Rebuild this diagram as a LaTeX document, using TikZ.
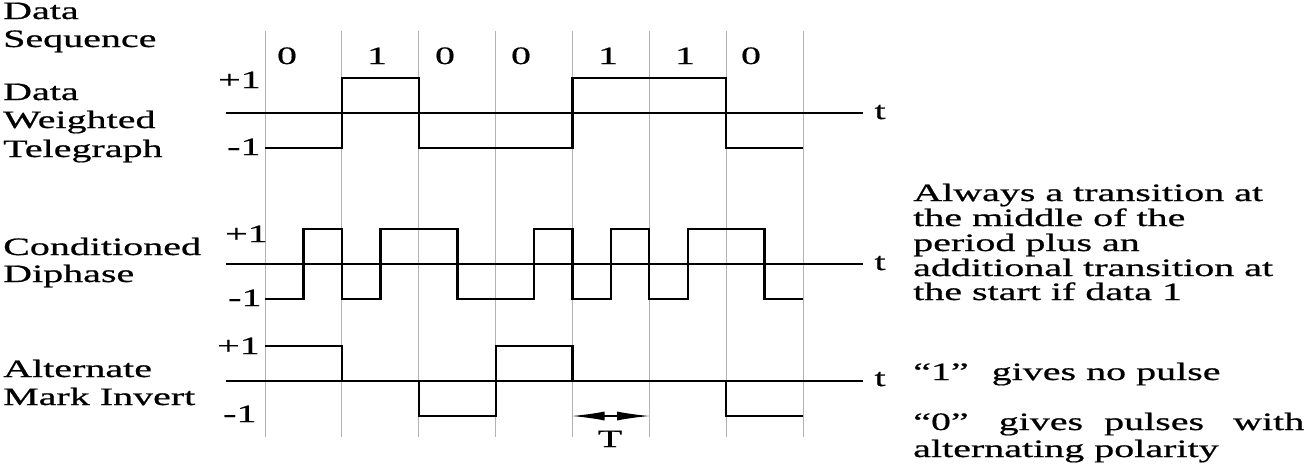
\documentclass[tikz,border=0pt]{standalone}
\usepackage{fontspec}
\setmainfont{Liberation Serif}[FakeStretch=1.6,FakeBold=0.7]
\usetikzlibrary{arrows.meta}
\begin{document}
\begin{tikzpicture}[x=1pt,y=-1pt,
  txt/.style={font=\fontsize{25}{27}\selectfont, inner sep=0pt, anchor=base west},
  ctxt/.style={font=\fontsize{25}{27}\selectfont, inner sep=0pt, anchor=base},
  gridline/.style={draw=black!30, line width=1pt},
  wave/.style={draw=black, line width=2.8pt, line join=miter},
  axis/.style={draw=black, line width=2.8pt}]
\useasboundingbox (0,0) rectangle (1305,467);
% grid
\foreach \i in {0,...,7} \draw[gridline] ({265+76.857*\i},31) -- ({265+76.857*\i},437);
% axes
\coordinate (a1s) at (226,113); \coordinate (a1e) at (863,113);
\coordinate (a2s) at (226,264); \coordinate (a2e) at (863,264);
\coordinate (a3s) at (226,381); \coordinate (a3e) at (863,381);
\draw[axis] (a1s) -- (a1e);
\draw[axis] (a2s) -- (a2e);
\draw[axis] (a3s) -- (a3e);
% waveforms
\draw[wave] (265,148) -| (342,78) -| (419,148) -| (572.5,78) -| (726,148) -- (803,148);
\draw[wave] (265,299) -| (303.5,229) -| (342,299) -| (380.5,229) -| (457.5,299) -| (534,229)
  -| (572.5,299) -| (611,229) -| (649,299) -| (688,229) -| (764.5,299) -- (803,299);
\draw[wave] (265,346) -| (342,381) -| (419,416) -| (496,346) -| (572.5,381) -| (726,416) -- (803,416);
% T arrow
\coordinate (tL) at (572.5,416); \coordinate (tR) at (649,416);
\draw[line width=1.5pt, {Latex[length=33pt,width=9pt]}-{Latex[length=33pt,width=9pt]}, shorten <=-1pt, shorten >=-1pt] (tL) -- (tR);
\node[ctxt] (T) at (610,447) {T};
% t labels
\node[ctxt] (t1) at (880,119) {t};
\node[ctxt] (t2) at (880,270) {t};
\node[ctxt] (t3) at (880,386) {t};
% bits
\node[ctxt] (b1) at (287,64) {0};
\node[ctxt] (b2) at (377,64) {1};
\node[ctxt] (b3) at (445,64) {0};
\node[ctxt] (b4) at (521,64) {0};
\node[ctxt] (b5) at (608,64) {1};
\node[ctxt] (b6) at (685,64) {1};
\node[ctxt] (b7) at (751,64) {0};
% level labels
\node[txt] (p1) at (218,88) {+1};
\node[txt] (n1) at (227,155) {-1};
\node[txt] (p2) at (225,242) {+1};
\node[txt] (n2) at (228,306) {-1};
\node[txt] (p3) at (217,354) {+1};
\node[txt] (n3) at (223,422) {-1};
% left labels
\node[txt] (l1) at (3,19) {Data};
\node[txt] (l2) at (3,47) {Sequence};
\node[txt] (l3) at (3,100) {Data};
\node[txt] (l4) at (3,128) {Weighted};
\node[txt] (l5) at (3,157) {Telegraph};
\node[txt] (l6) at (3,255) {Conditioned};
\node[txt] (l7) at (3,282) {Diphase};
\node[txt] (l8) at (3,377) {Alternate};
\node[txt] (l9) at (3,405) {Mark Invert};
% right notes
\node[txt] (r1) at (913,201) {Always a transition at};
\node[txt] (r2) at (913,226) {the middle of the};
\node[txt] (r3) at (913,251) {period plus an};
\node[txt] (r4) at (913,276) {additional transition at};
\node[txt] (r5) at (913,300) {the start if data 1};
\node[txt] (r6) at (913,380) {“1”\hspace{23pt}gives no pulse};
\node[txt] (r7) at (913,430) {“0”\hspace{30pt}gives\hspace{21pt}pulses\hspace{29pt}with};
\node[txt] (r8) at (913,457) {alternating polarity};
\end{tikzpicture}
\end{document}
